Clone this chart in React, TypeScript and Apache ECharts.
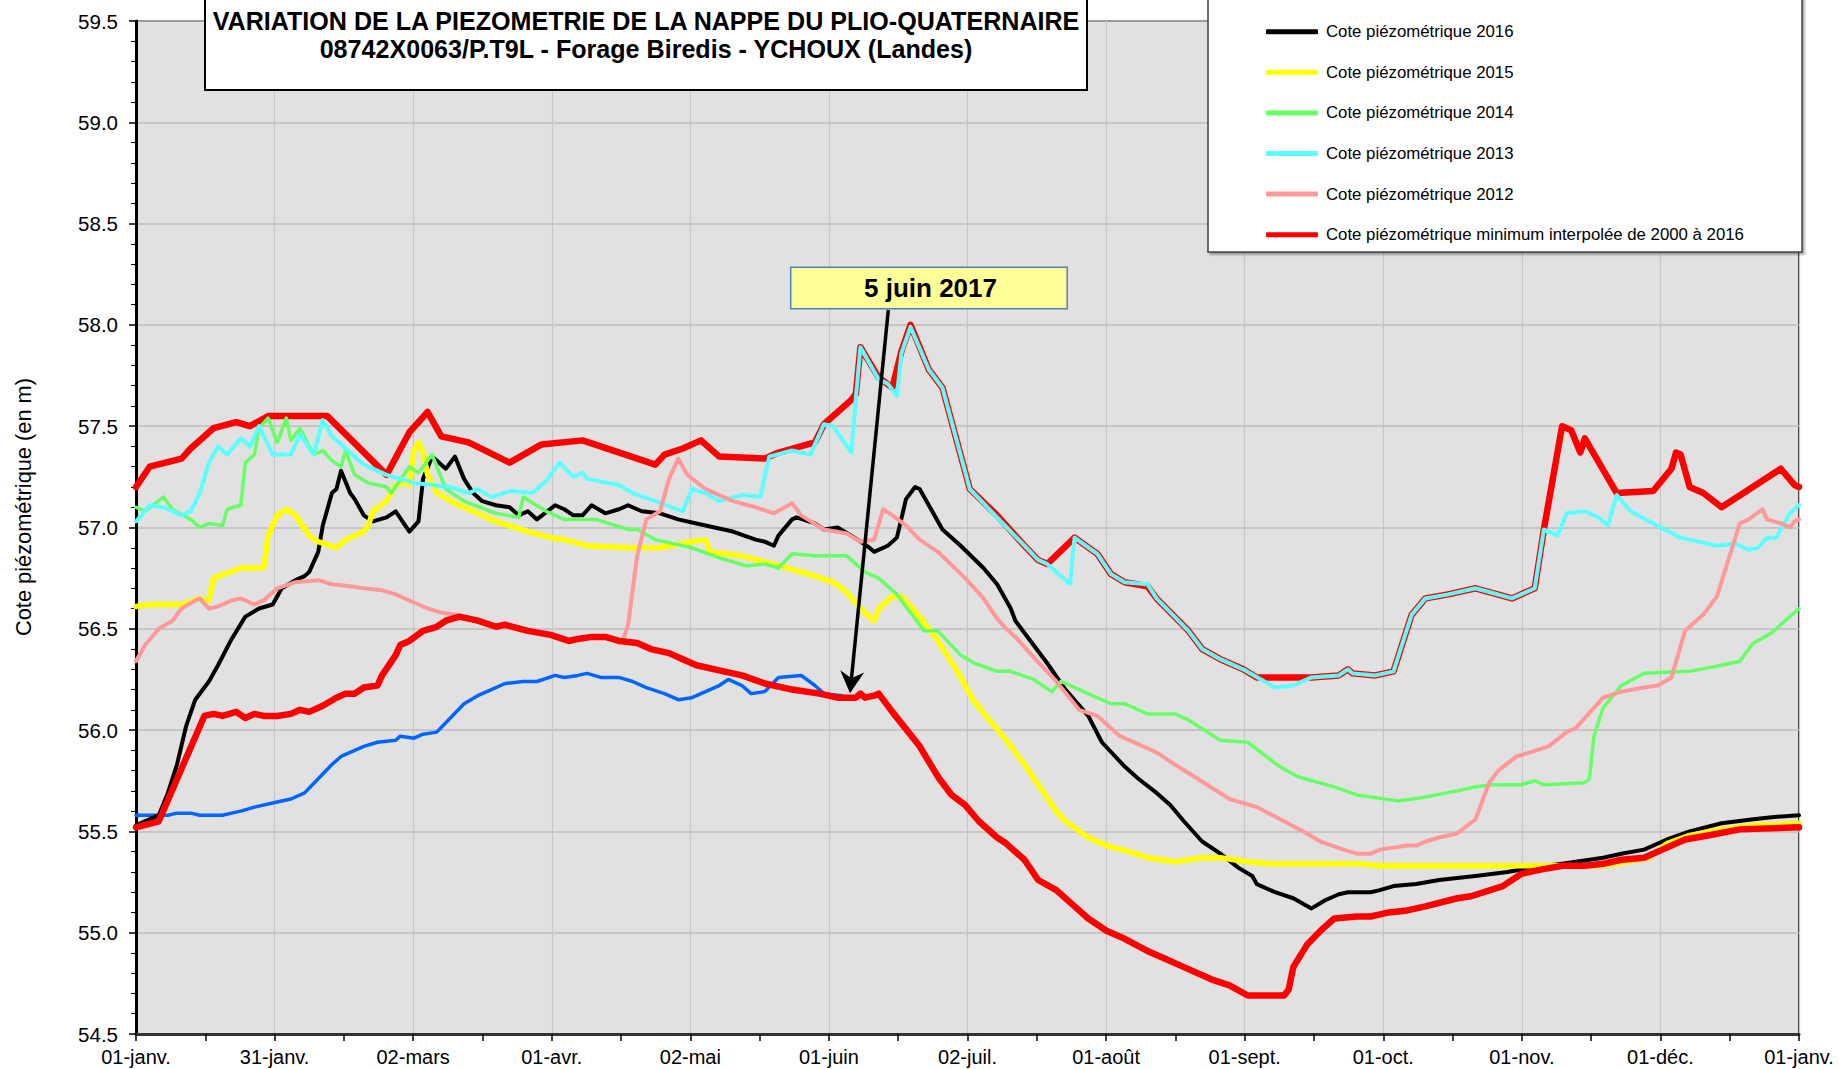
import React, { useEffect, useRef } from "react";
import * as echarts from "echarts";

type Pt = [number, number];

// Axis labels (one per month tick)
const monthLabels = [
  "01-janv.", "31-janv.", "02-mars", "01-avr.", "02-mai", "01-juin", "02-juil.",
  "01-août", "01-sept.", "01-oct.", "01-nov.", "01-déc.", "01-janv.",
];

// [day of year, level in m]
const cote2017: Pt[] = [
  [0, 55.58], [7, 55.58], [9, 55.59], [12, 55.59], [14, 55.58], [19, 55.58], [21, 55.59], [23, 55.6],
  [26, 55.62], [30, 55.64], [34, 55.66], [37, 55.69], [40, 55.76], [43, 55.83], [45, 55.87], [50, 55.92],
  [53, 55.94], [57, 55.95], [58, 55.97], [61, 55.96], [63, 55.98], [66, 55.99], [69, 56.06], [72, 56.13],
  [75, 56.17], [78, 56.2], [81, 56.23], [85, 56.24], [88, 56.24], [92, 56.27], [94, 56.26], [97, 56.27],
  [99, 56.28], [102, 56.26], [106, 56.26], [109, 56.24], [112, 56.21], [116, 56.18], [119, 56.15],
  [122, 56.16], [125, 56.19], [128, 56.22], [130, 56.25], [133, 56.22], [135, 56.18], [138, 56.19],
  [141, 56.26], [146, 56.27], [149, 56.22], [151, 56.18], [155, 56.17],
];

const coteMax: Pt[] = [
  [0, 57.2], [3, 57.3], [10, 57.34], [12, 57.39], [17, 57.49], [22, 57.52], [25, 57.5], [29, 57.55],
  [42, 57.55], [55, 57.26], [60, 57.47], [64, 57.57], [67, 57.45], [73, 57.42], [82, 57.32], [89, 57.41],
  [98, 57.43], [114, 57.31], [116, 57.36], [120, 57.39], [124, 57.43], [128, 57.35], [138, 57.34],
  [141, 57.37], [149, 57.42], [151, 57.51], [157, 57.63], [158, 57.66], [159, 57.89], [163, 57.74],
  [166, 57.69], [168, 57.87], [170, 58.0], [174, 57.78], [177, 57.69], [180, 57.44], [183, 57.19],
  [189, 57.06], [195, 56.91], [198, 56.84], [200, 56.82], [206, 56.95], [211, 56.87], [214, 56.77],
  [217, 56.73], [222, 56.71], [224, 56.65], [231, 56.49], [234, 56.4], [238, 56.35], [243, 56.3],
  [246, 56.26], [258, 56.26], [264, 56.27], [266, 56.3], [267, 56.28], [272, 56.27], [276, 56.29],
  [277, 56.36], [280, 56.57], [283, 56.65], [288, 56.67], [294, 56.7], [302, 56.65], [307, 56.7],
  [309, 56.99], [313, 57.5], [315, 57.48], [317, 57.37], [318, 57.44], [325, 57.17], [333, 57.18],
  [337, 57.29], [338, 57.37], [339, 57.36], [341, 57.2], [344, 57.17], [348, 57.1], [361, 57.29],
  [364, 57.21], [365, 57.2],
];

const cote2016: Pt[] = [
  [0, 55.53], [5, 55.58], [7, 55.69], [9, 55.83], [11, 56.02], [13, 56.15], [16, 56.24], [18, 56.32],
  [21, 56.45], [24, 56.56], [27, 56.6], [30, 56.62], [32, 56.7], [35, 56.74], [37, 56.76], [38, 56.78],
  [40, 56.88], [41, 57.01], [43, 57.17], [44, 57.19], [45, 57.28], [47, 57.17], [48, 57.14], [50, 57.06],
  [52, 57.03], [55, 57.05], [57, 57.08], [60, 56.98], [62, 57.03], [63, 57.24], [65, 57.35], [68, 57.29],
  [70, 57.35], [72, 57.24], [74, 57.17], [76, 57.13], [79, 57.11], [82, 57.1], [84, 57.06], [86, 57.08],
  [88, 57.04], [92, 57.11], [94, 57.09], [96, 57.06], [98, 57.06], [100, 57.11], [103, 57.07],
  [106, 57.09], [108, 57.11], [111, 57.08], [115, 57.07], [119, 57.04], [123, 57.02], [125, 57.01],
  [131, 56.98], [136, 56.94], [138, 56.93], [140, 56.91], [141, 56.96], [144, 57.04], [145, 57.05],
  [149, 57.02], [151, 56.99], [154, 57.0], [157, 56.96], [159, 56.93], [161, 56.9], [162, 56.88],
  [165, 56.91], [167, 56.95], [169, 57.14], [171, 57.2], [172, 57.19], [175, 57.07], [177, 56.99],
  [181, 56.91], [186, 56.8], [189, 56.72], [192, 56.6], [193, 56.54], [196, 56.45], [200, 56.33],
  [204, 56.2], [209, 56.07], [212, 55.94], [217, 55.82], [220, 55.76], [224, 55.69], [227, 55.63],
  [230, 55.55], [234, 55.45], [238, 55.39], [242, 55.32], [245, 55.28], [246, 55.24], [250, 55.2],
  [254, 55.17], [258, 55.12], [261, 55.16], [264, 55.19], [266, 55.2], [271, 55.2], [273, 55.21],
  [276, 55.23], [281, 55.24], [286, 55.26], [294, 55.28], [301, 55.3], [306, 55.32], [313, 55.34],
  [322, 55.37], [326, 55.39], [331, 55.41], [336, 55.46], [341, 55.5], [348, 55.54], [355, 55.56],
  [359, 55.57], [365, 55.58],
];

const cote2015: Pt[] = [
  [0, 56.61], [3, 56.62], [6, 56.62], [10, 56.62], [14, 56.65], [16, 56.64], [17, 56.75], [23, 56.8],
  [28, 56.8], [29, 56.96], [31, 57.06], [33, 57.09], [35, 57.06], [38, 56.96], [40, 56.93], [44, 56.9],
  [46, 56.94], [50, 56.98], [51, 57.01], [52, 57.08], [55, 57.13], [57, 57.21], [59, 57.22], [60, 57.21],
  [61, 57.38], [62, 57.42], [63, 57.37], [64, 57.26], [66, 57.17], [70, 57.12], [75, 57.07], [79, 57.03],
  [86, 56.98], [91, 56.95], [94, 56.94], [99, 56.91], [108, 56.9], [115, 56.9], [122, 56.93],
  [125, 56.94], [126, 56.88], [133, 56.86], [138, 56.83], [143, 56.8], [149, 56.76], [153, 56.73],
  [156, 56.68], [159, 56.6], [162, 56.54], [163, 56.6], [166, 56.66], [168, 56.66], [172, 56.56],
  [176, 56.44], [180, 56.3], [184, 56.14], [188, 56.03], [191, 55.95], [195, 55.83], [198, 55.73],
  [202, 55.6], [204, 55.55], [209, 55.47], [213, 55.43], [218, 55.4], [222, 55.37], [228, 55.35],
  [234, 55.37], [238, 55.37], [244, 55.35], [249, 55.34], [257, 55.34], [268, 55.34], [273, 55.33],
  [280, 55.33], [286, 55.33], [304, 55.33], [322, 55.33], [332, 55.37], [336, 55.44], [341, 55.48],
  [348, 55.51], [355, 55.53], [365, 55.54],
];

const cote2014: Pt[] = [
  [0, 57.1], [2, 57.08], [6, 57.15], [8, 57.09], [12, 57.04], [14, 57.0], [16, 57.02], [19, 57.01],
  [20, 57.09], [23, 57.11], [24, 57.32], [26, 57.36], [27, 57.49], [29, 57.54], [31, 57.42], [33, 57.54],
  [34, 57.43], [36, 57.49], [39, 57.36], [41, 57.38], [43, 57.33], [45, 57.3], [46, 57.38], [48, 57.26],
  [51, 57.22], [55, 57.2], [56, 57.17], [60, 57.3], [62, 57.27], [65, 57.36], [68, 57.19], [72, 57.13],
  [79, 57.07], [84, 57.05], [85, 57.15], [90, 57.08], [94, 57.04], [97, 57.04], [101, 57.04],
  [108, 56.99], [110, 56.99], [114, 56.94], [122, 56.9], [128, 56.85], [134, 56.81], [138, 56.82],
  [141, 56.8], [144, 56.87], [149, 56.86], [156, 56.86], [157, 56.84], [160, 56.78], [163, 56.75],
  [167, 56.67], [173, 56.49], [176, 56.49], [181, 56.37], [184, 56.33], [189, 56.29], [192, 56.29],
  [197, 56.25], [201, 56.19], [203, 56.24], [207, 56.2], [214, 56.13], [217, 56.13], [222, 56.08],
  [228, 56.08], [231, 56.05], [238, 55.95], [244, 55.94], [251, 55.82], [255, 55.77], [263, 55.72],
  [268, 55.68], [274, 55.66], [277, 55.65], [283, 55.67], [290, 55.7], [294, 55.72], [298, 55.73],
  [304, 55.73], [307, 55.75], [309, 55.73], [318, 55.74], [319, 55.76], [320, 55.97], [322, 56.11],
  [326, 56.22], [331, 56.28], [341, 56.29], [348, 56.32], [352, 56.34], [355, 56.43], [359, 56.48],
  [365, 56.6],
];

const cote2013: Pt[] = [
  [0, 57.03], [3, 57.11], [6, 57.1], [10, 57.06], [12, 57.08], [14, 57.17], [16, 57.32], [18, 57.4],
  [20, 57.36], [23, 57.44], [25, 57.4], [27, 57.5], [30, 57.36], [34, 57.36], [36, 57.46], [39, 57.36],
  [41, 57.53], [43, 57.45], [50, 57.31], [55, 57.26], [61, 57.22], [69, 57.2], [73, 57.17], [75, 57.19],
  [78, 57.15], [82, 57.18], [87, 57.17], [90, 57.23], [93, 57.32], [96, 57.25], [98, 57.27], [99, 57.24],
  [106, 57.21], [109, 57.17], [114, 57.13], [120, 57.08], [122, 57.19], [125, 57.17], [128, 57.13],
  [133, 57.16], [137, 57.15], [139, 57.35], [144, 57.38], [148, 57.36], [151, 57.51], [153, 57.5],
  [157, 57.37], [158, 57.64], [159, 57.89], [163, 57.73], [165, 57.71], [167, 57.65], [168, 57.86],
  [170, 57.99], [174, 57.78], [177, 57.69], [180, 57.44], [183, 57.19], [189, 57.05], [195, 56.91],
  [198, 56.84], [200, 56.82], [205, 56.72], [206, 56.95], [211, 56.87], [214, 56.77], [217, 56.73],
  [222, 56.72], [224, 56.65], [231, 56.49], [234, 56.4], [238, 56.35], [243, 56.3], [250, 56.21],
  [254, 56.22], [258, 56.26], [264, 56.27], [266, 56.3], [267, 56.28], [272, 56.27], [276, 56.29],
  [277, 56.36], [280, 56.57], [283, 56.65], [288, 56.67], [294, 56.7], [302, 56.65], [307, 56.7],
  [309, 56.99], [312, 56.96], [314, 57.07], [318, 57.08], [321, 57.05], [323, 57.01], [325, 57.16],
  [328, 57.08], [333, 57.02], [339, 56.95], [347, 56.91], [351, 56.92], [354, 56.89], [356, 56.9],
  [358, 56.95], [360, 56.95], [363, 57.07], [365, 57.11],
];

const cote2012: Pt[] = [
  [0, 56.34], [2, 56.42], [5, 56.5], [8, 56.54], [10, 56.6], [13, 56.64], [14, 56.65], [16, 56.6],
  [18, 56.61], [21, 56.64], [23, 56.65], [26, 56.62], [28, 56.64], [31, 56.7], [35, 56.73], [40, 56.74],
  [43, 56.72], [47, 56.71], [50, 56.7], [54, 56.69], [57, 56.67], [61, 56.63], [64, 56.6], [67, 56.58],
  [70, 56.57], [75, 56.54], [79, 56.51], [81, 56.52], [86, 56.49], [91, 56.47], [95, 56.44],
  [97, 56.45], [100, 56.46], [103, 56.46], [106, 56.44], [107, 56.45], [108, 56.52], [110, 56.86],
  [112, 57.04], [115, 57.08], [117, 57.24], [119, 57.34], [121, 57.26], [125, 57.19], [127, 57.17],
  [131, 57.13], [136, 57.1], [140, 57.07], [144, 57.12], [146, 57.06], [151, 56.99], [156, 56.97],
  [159, 56.93], [162, 56.94], [164, 57.09], [166, 57.06], [169, 57.01], [172, 56.94], [176, 56.88],
  [182, 56.75], [186, 56.65], [189, 56.55], [191, 56.5], [193, 56.46], [197, 56.36], [202, 56.24],
  [207, 56.1], [211, 56.07], [216, 55.97], [224, 55.89], [228, 55.83], [233, 55.76], [240, 55.66],
  [246, 55.62], [252, 55.55], [257, 55.49], [260, 55.45], [265, 55.41], [268, 55.39], [271, 55.39],
  [273, 55.41], [279, 55.43], [281, 55.43], [283, 55.45], [286, 55.47], [290, 55.49], [294, 55.56],
  [297, 55.74], [299, 55.8], [303, 55.87], [306, 55.89], [310, 55.92], [314, 55.99], [316, 56.01],
  [320, 56.11], [322, 56.16], [326, 56.19], [331, 56.21], [334, 56.22], [337, 56.26], [340, 56.49],
  [344, 56.57], [347, 56.66], [352, 57.02], [354, 57.04], [357, 57.09], [358, 57.04], [361, 57.02],
  [363, 57.0], [364, 57.03], [365, 57.04],
];

const coteMin: Pt[] = [
  [0, 55.52], [5, 55.55], [15, 56.07], [17, 56.08], [19, 56.07], [22, 56.09], [24, 56.06], [26, 56.08],
  [28, 56.07], [31, 56.07], [34, 56.08], [36, 56.1], [38, 56.09], [41, 56.12], [44, 56.16], [46, 56.18],
  [48, 56.18], [50, 56.21], [53, 56.22], [54, 56.27], [57, 56.37], [58, 56.42], [60, 56.44], [63, 56.49],
  [66, 56.51], [68, 56.54], [71, 56.56], [75, 56.54], [79, 56.51], [81, 56.52], [86, 56.49], [91, 56.47],
  [95, 56.44], [97, 56.45], [100, 56.46], [103, 56.46], [106, 56.44], [110, 56.43], [113, 56.4],
  [117, 56.38], [120, 56.35], [123, 56.32], [129, 56.29], [133, 56.27], [138, 56.23], [144, 56.2],
  [150, 56.18], [154, 56.16], [158, 56.16], [159, 56.18], [160, 56.16], [162, 56.17], [163, 56.18],
  [166, 56.09], [172, 55.92], [176, 55.77], [179, 55.68], [182, 55.63], [185, 55.55], [189, 55.47],
  [191, 55.44], [195, 55.36], [198, 55.26], [202, 55.21], [206, 55.13], [209, 55.07], [213, 55.01],
  [217, 54.97], [222, 54.91], [226, 54.87], [230, 54.83], [236, 54.77], [240, 54.74], [244, 54.69],
  [247, 54.69], [252, 54.69], [253, 54.72], [254, 54.83], [257, 54.94], [260, 55.01], [263, 55.07],
  [268, 55.08], [271, 55.08], [275, 55.1], [279, 55.11], [283, 55.13], [290, 55.17], [293, 55.18],
  [300, 55.23], [304, 55.29], [308, 55.31], [313, 55.33], [318, 55.33], [322, 55.34], [326, 55.36],
  [331, 55.37], [335, 55.41], [340, 55.46], [345, 55.48], [352, 55.51], [365, 55.52],
];

const seriesDefs = [
  { name: "Cote piézométrique 2017", data: cote2017, color: "#0066ff", width: 3.5 },
  { name: "Cote piézométrique maximum interpolée de 2000 à 2016", data: coteMax, color: "#ff0000", width: 6.5 },
  { name: "Cote piézométrique 2016", data: cote2016, color: "#000000", width: 4 },
  { name: "Cote piézométrique 2015", data: cote2015, color: "#ffff00", width: 5.5 },
  { name: "Cote piézométrique 2014", data: cote2014, color: "#66ff66", width: 3.5 },
  { name: "Cote piézométrique 2013", data: cote2013, color: "#5cffff", width: 4 },
  { name: "Cote piézométrique 2012", data: cote2012, color: "#ff9999", width: 4 },
  { name: "Cote piézométrique minimum interpolée de 2000 à 2016", data: coteMin, color: "#ff0000", width: 6.5 },
];

const legendNames = [
  "Cote piézométrique 2016",
  "Cote piézométrique 2015",
  "Cote piézométrique 2014",
  "Cote piézométrique 2013",
  "Cote piézométrique 2012",
  "Cote piézométrique minimum interpolée de 2000 à 2016",
];

const titleLine1 = "VARIATION DE LA PIEZOMETRIE DE LA NAPPE DU PLIO-QUATERNAIRE";
const titleLine2 = "08742X0063/P.T9L - Forage Biredis - YCHOUX (Landes)";
const annotationText = "5 juin 2017";
const yAxisTitle = "Cote piézométrique (en m)";

const toMonths = (pts: Pt[]) => pts.map(([d, v]) => [(d * 12) / 365, v]);

const FONT = "'Liberation Sans', Arial, sans-serif";

export default function App() {
  const ref = useRef<HTMLDivElement>(null);

  useEffect(() => {
    if (!ref.current) return;
    const chart = echarts.init(ref.current, undefined, { renderer: "svg" });

    // arrow geometry
    const sx = 888.3, sy = 310, tx = 850, ty = 693.3;
    const len = Math.hypot(tx - sx, ty - sy);
    const ux = (tx - sx) / len, uy = (ty - sy) / len;
    const nx = -uy, ny = ux;
    const L = 22, W = 12, notch = 15;
    const bx = tx - L * ux, by = ty - L * uy;
    const headPts = [
      [tx, ty],
      [bx + W * nx, by + W * ny],
      [tx - notch * ux, ty - notch * uy],
      [bx - W * nx, by - W * ny],
    ];

    const option: any = {
      animation: false,
      backgroundColor: "#ffffff",
      grid: {
        left: 136, right: 40, top: 21, bottom: 35,
        show: true, backgroundColor: "#e1e1e1", borderColor: "#000", borderWidth: 1.5,
      },
      xAxis: {
        type: "value", min: 0, max: 12, interval: 1,
        axisLine: { show: true, onZero: false, lineStyle: { color: "#333", width: 3 } },
        axisTick: { show: true, inside: false, length: 7, lineStyle: { color: "#000", width: 1.5 } },
        minorTick: { show: true, splitNumber: 2, length: 7, lineStyle: { color: "#000", width: 1.5 } },
        axisLabel: {
          formatter: (v: number) => monthLabels[Math.round(v)] ?? "",
          fontFamily: FONT, fontSize: 20, color: "#000", margin: 13,
        },
        splitLine: { show: true, lineStyle: { color: "#c6c6c6", width: 1.2 } },
      },
      yAxis: {
        type: "value", min: 54.5, max: 59.5, interval: 0.5,
        axisLine: { show: true, onZero: false, lineStyle: { color: "#000", width: 3 } },
        axisTick: { show: true, inside: false, length: 7, lineStyle: { color: "#000", width: 1.5 } },
        minorTick: { show: true, splitNumber: 5, length: 5, lineStyle: { color: "#000", width: 1 } },
        axisLabel: {
          formatter: (v: number) => v.toFixed(1),
          fontFamily: FONT, fontSize: 20.5, color: "#000", margin: 18,
        },
        splitLine: { show: true, lineStyle: { color: "#bcbcbc", width: 1.6 } },
      },
      legend: {
        data: legendNames,
        orient: "vertical",
        left: 1266, top: 21.7, padding: 0,
        icon: "roundRect", itemWidth: 52, itemHeight: 5, itemGap: 20.6,
        textStyle: { fontFamily: FONT, fontSize: 16.8, color: "#000", lineHeight: 20, padding: [0, 0, 0, 3] },
        selectedMode: false,
        z: 60,
      },
      series: seriesDefs.map((s, i) => ({
        name: s.name,
        type: "line",
        data: toMonths(s.data),
        showSymbol: false,
        symbol: "none",
        silent: true,
        lineStyle: { color: s.color, width: s.width, join: "round", cap: "round" },
        itemStyle: { color: s.color },
        z: 2 + i * 0.01,
      })),
      graphic: [
        {
          type: "text", z: 40, x: 23, y: 507, rotation: Math.PI / 2,
          style: { text: yAxisTitle, fill: "#000", font: `21.8px ${FONT}`, align: "center", verticalAlign: "middle" },
        },
        {
          type: "rect", z: 50,
          shape: { x: 205, y: -5, width: 882, height: 95 },
          style: { fill: "#fff", stroke: "#000", lineWidth: 2 },
        },
        {
          type: "text", z: 51, x: 646, y: 21,
          style: { text: titleLine1, fill: "#000", font: `bold 25.1px ${FONT}`, align: "center", verticalAlign: "middle" },
        },
        {
          type: "text", z: 51, x: 646, y: 49,
          style: { text: titleLine2, fill: "#000", font: `bold 25.1px ${FONT}`, align: "center", verticalAlign: "middle" },
        },
        {
          type: "rect", z: 50,
          shape: { x: 1208, y: -5, width: 594, height: 257 },
          style: { fill: "#fff", stroke: "#404040", lineWidth: 1.5, shadowColor: "rgba(0,0,0,0.35)", shadowOffsetX: 2, shadowOffsetY: 2, shadowBlur: 2 },
        },
        {
          type: "rect", z: 70,
          shape: { x: 790.7, y: 267.3, width: 276.5, height: 41.5 },
          style: { fill: "#ffff99", stroke: "#4f81bd", lineWidth: 1.5 },
        },
        {
          type: "text", z: 71, x: 930.5, y: 287.5,
          style: { text: annotationText, fill: "#000", font: `bold 26px ${FONT}`, align: "center", verticalAlign: "middle" },
        },
        {
          type: "line", z: 72,
          shape: { x1: sx, y1: sy, x2: tx - notch * ux, y2: ty - notch * uy },
          style: { stroke: "#000", lineWidth: 3.5 },
        },
        {
          type: "polygon", z: 72,
          shape: { points: headPts },
          style: { fill: "#000" },
        },
      ],
    };

    chart.setOption(option);
    return () => chart.dispose();
  }, []);

  return (
    <div
      ref={ref}
      style={{ position: "absolute", left: 0, top: 0, width: 1839, height: 1069, background: "#fff" }}
    />
  );
}
